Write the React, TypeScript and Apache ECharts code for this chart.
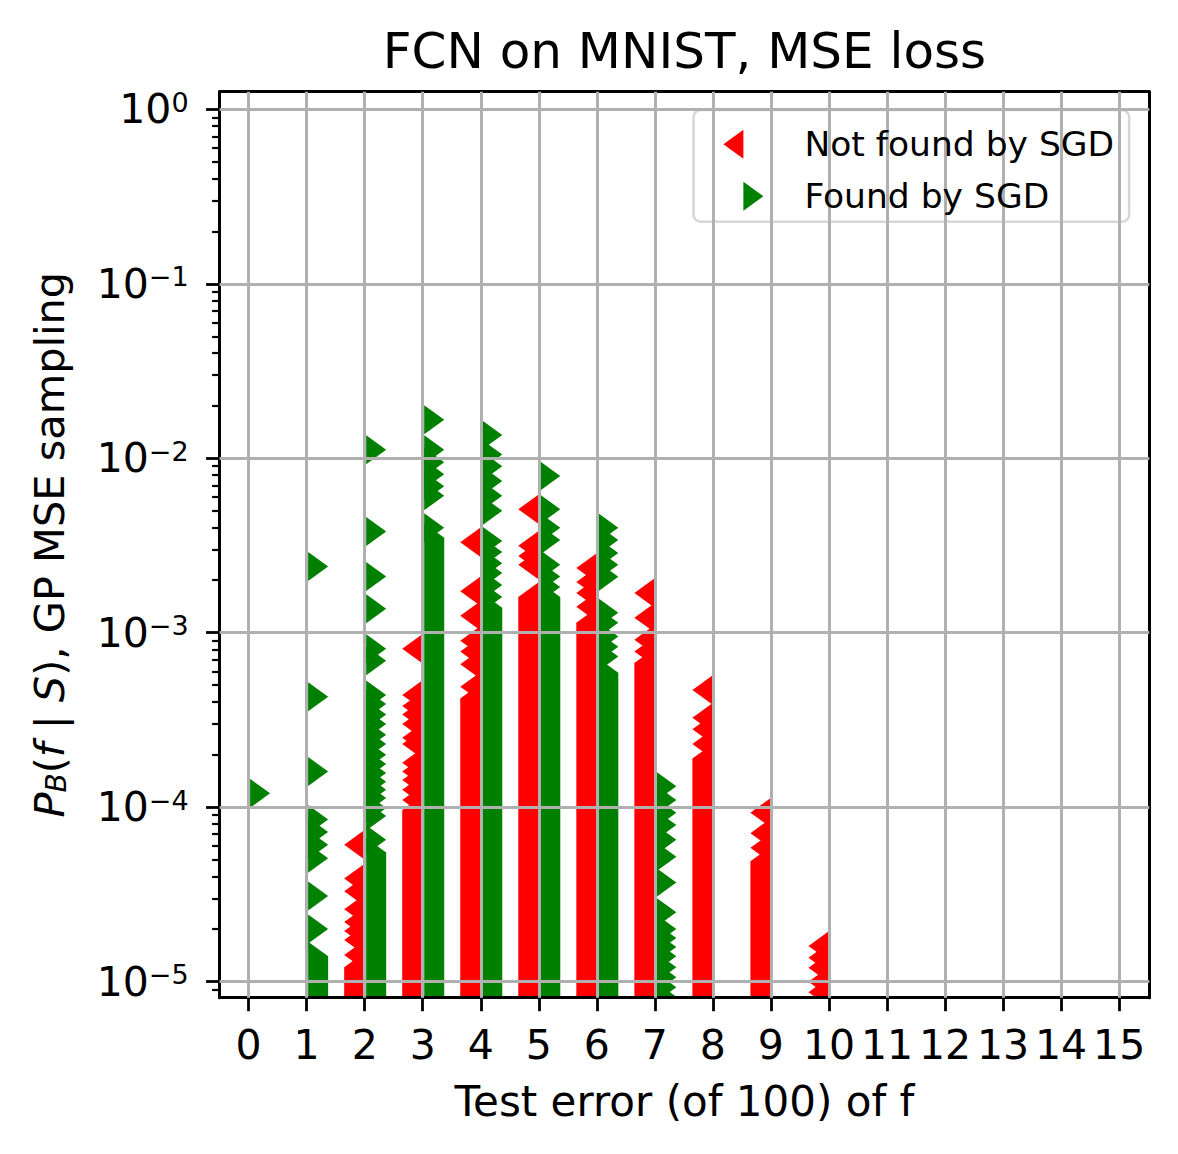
import React, { useEffect, useRef } from 'react';
import * as echarts from 'echarts';

const FONT = '"DejaVu Sans", sans-serif';
const TITLE = 'FCN on MNIST, MSE loss';
const X_NAME = 'Test error (of 100) of f';
const NOT_FOUND_SGD = 'Not found by SGD';
const FOUND_SGD = 'Found by SGD';

const X_TICKS = [0, 1, 2, 3, 4, 5, 6, 7, 8, 9, 10, 11, 12, 13, 14, 15];
const X_MIN = -0.5;
const X_MAX = 15.52;
const Y_TICKS = [1e-5, 1e-4, 1e-3, 1e-2, 1e-1, 1];
const Y_MINOR_TICKS = [
  9e-6, 2e-5, 3e-5, 4e-5, 5e-5, 6e-5, 7e-5, 8e-5, 9e-5,
  2e-4, 3e-4, 4e-4, 5e-4, 6e-4, 7e-4, 8e-4, 9e-4,
  2e-3, 3e-3, 4e-3, 5e-3, 6e-3, 7e-3, 8e-3, 9e-3,
  0.02, 0.03, 0.04, 0.05, 0.06, 0.07, 0.08, 0.09,
  0.2, 0.3, 0.4, 0.5, 0.6, 0.7, 0.8, 0.9,
];
const Y_MIN = 8.09e-6;
const Y_MAX = 1.262;

// Individually visible markers, P_B(f|S), per test error (not found by SGD)
const NOT_FOUND_AT_2 = [6.1e-5, 3.9e-5, 3.3e-5, 2.6e-5, 2.2e-5, 1.95e-5, 1.73e-5, 1.42e-5];
const NOT_FOUND_AT_3 = [8.1e-4, 4.4e-4, 3.8e-4, 3.4e-4, 3.0e-4, 2.5e-4, 2.3e-4, 1.8e-4, 1.6e-4, 1.43e-4, 1.26e-4, 1.1e-4];
const NOT_FOUND_AT_4 = [3.3e-3, 1.73e-3, 1.25e-3, 9.0e-4, 7.8e-4, 6.6e-4, 4.9e-4];
const NOT_FOUND_AT_5 = [5.1e-3, 3.15e-3, 2.75e-3, 2.45e-3];
const NOT_FOUND_AT_6 = [2.35e-3, 1.95e-3, 1.69e-3, 1.41e-3];
const NOT_FOUND_AT_7 = [1.69e-3, 1.22e-3, 9.1e-4, 7.8e-4];
const NOT_FOUND_AT_8 = [4.7e-4, 3.25e-4, 2.8e-4, 2.3e-4];
const NOT_FOUND_AT_9 = [9.3e-5, 7.1e-5, 5.85e-5];
const NOT_FOUND_AT_10 = [1.6e-5, 1.37e-5, 1.2e-5, 1.0e-5, 8.7e-6, 7.6e-6];

// Individually visible markers (found by SGD)
const FOUND_AT_0 = [1.2e-4];
const FOUND_AT_1 = [2.4e-3, 4.3e-4, 1.6e-4, 8.5e-5, 7.2e-5, 6.1e-5, 5.1e-5, 3.1e-5, 2.0e-5];
const FOUND_AT_2 = [1.12e-2, 3.8e-3, 2.1e-3, 1.37e-3, 8.1e-4, 6.9e-4, 4.4e-4, 3.9e-4, 3.4e-4, 3.0e-4, 2.6e-4, 2.3e-4, 2.0e-4, 1.77e-4, 1.57e-4, 1.4e-4, 1.26e-4, 1.13e-4, 9.9e-5, 8.9e-5, 6.5e-5];
const FOUND_AT_3 = [1.66e-2, 1.12e-2, 9.5e-3, 8.1e-3, 6.9e-3, 6.1e-3, 4.0e-3];
const FOUND_AT_4 = [1.36e-2, 1.05e-2, 9.0e-3, 7.4e-3, 6.1e-3, 5.0e-3, 3.35e-3, 2.9e-3, 2.5e-3, 2.2e-3, 1.88e-3, 1.6e-3];
const FOUND_AT_5 = [7.9e-3, 5.1e-3, 4.0e-3, 3.4e-3, 2.45e-3, 2.1e-3, 1.83e-3];
const FOUND_AT_6 = [4.0e-3, 3.4e-3, 2.86e-3, 2.45e-3, 2.09e-3, 1.3e-3, 1.14e-3, 9.5e-4, 8.3e-4, 7.3e-4];
const FOUND_AT_7 = [1.32e-4, 1.1e-4, 9.3e-5, 7.9e-5, 6.5e-5, 5.2e-5, 3.7e-5, 2.5e-5, 2.0e-5, 1.78e-5, 1.58e-5, 1.4e-5, 1.21e-5, 1.06e-5, 9.3e-6, 8.2e-6, 7.3e-6];

// Stretches where markers overlap into a solid bar: [test error, upper P, lower P]
const NOT_FOUND_BANDS: [number, number, number][] = [
  [2, 1.21e-5, 7.5e-6],
  [3, 9.6e-5, 7.5e-6],
  [4, 4.2e-4, 7.5e-6],
  [5, 1.6e-3, 7.5e-6],
  [6, 1.14e-3, 7.5e-6],
  [7, 6.7e-4, 7.5e-6],
  [8, 1.9e-4, 7.5e-6],
  [9, 4.9e-5, 7.5e-6],
];
const FOUND_BANDS: [number, number, number][] = [
  [1, 1.4e-5, 7.5e-6],
  [2, 5.5e-5, 7.5e-6],
  [3, 3.5e-3, 7.5e-6],
  [4, 1.39e-3, 7.5e-6],
  [5, 1.6e-3, 7.5e-6],
  [6, 5.9e-4, 7.5e-6],
];

const NOT_FOUND_POINTS: [number, number[]][] = [
  [2, NOT_FOUND_AT_2], [3, NOT_FOUND_AT_3], [4, NOT_FOUND_AT_4], [5, NOT_FOUND_AT_5],
  [6, NOT_FOUND_AT_6], [7, NOT_FOUND_AT_7], [8, NOT_FOUND_AT_8], [9, NOT_FOUND_AT_9],
  [10, NOT_FOUND_AT_10],
];
const FOUND_POINTS: [number, number[]][] = [
  [0, FOUND_AT_0], [1, FOUND_AT_1], [2, FOUND_AT_2], [3, FOUND_AT_3],
  [4, FOUND_AT_4], [5, FOUND_AT_5], [6, FOUND_AT_6], [7, FOUND_AT_7],
];

const lg = (v: number) => Math.log10(v);

function buildRows(points: [number, number[]][], bands: [number, number, number][]) {
  const rows: number[][] = [];
  bands.forEach(([x, hi, lo]) => rows.push([x, lg(hi), lg(lo)]));
  points.forEach(([x, vals]) => vals.forEach((v) => rows.push([x, lg(v), lg(v)])));
  return rows;
}

const RED_ICON = 'path://M20,0L20,29L0,14.5Z';
const GREEN_ICON = 'path://M0,0L20,14.5L0,29Z';

function makeRenderer(side: number, color: string) {
  return (params: any, api: any) => {
    const x = api.value(0);
    const top = api.coord([x, api.value(1)]);
    const bot = api.coord([x, api.value(2)]);
    const cx = top[0];
    const base = side < 0 ? cx - 0.5 : cx + 1.5;
    const tip = side < 0 ? cx - 20.5 : cx + 21.5;
    return {
      type: 'polygon',
      shape: {
        points: [
          [base, top[1] - 14.5],
          [tip, top[1]],
          [tip, bot[1]],
          [base, bot[1] + 14.5],
        ],
      },
      style: { fill: color },
    };
  };
}

export default function App() {
  const ref = useRef<HTMLDivElement>(null);

  useEffect(() => {
    if (!ref.current) return;
    const chart = echarts.init(ref.current, undefined, { renderer: 'svg' });
    const yMin = lg(Y_MIN);
    const yMax = lg(Y_MAX);
    const yTickExp = Y_TICKS.map(lg);
    const yMinorExp = Y_MINOR_TICKS.map(lg);
    const spine = { color: '#000', width: 3 };

    const option: any = {
      animation: false,
      textStyle: { fontFamily: FONT },
      title: {
        text: TITLE,
        left: 684.45,
        top: 50.5,
        textAlign: 'center',
        textVerticalAlign: 'middle',
        padding: 0,
        textStyle: { fontSize: 50, fontWeight: 'normal', color: '#000', fontFamily: FONT },
      },
      grid: { left: 219.6, top: 91.7, width: 929.7, height: 906, containLabel: false },
      xAxis: [
        {
          type: 'value',
          min: X_MIN,
          max: X_MAX,
          position: 'bottom',
          z: 4,
          axisLine: { show: true, onZero: false, lineStyle: spine },
          axisTick: { show: true, customValues: X_TICKS, length: 13.5, lineStyle: { color: '#000', width: 2.8 } },
          axisLabel: { show: true, customValues: X_TICKS, margin: 26.5, fontSize: 41, color: '#000', fontFamily: FONT },
          splitLine: { show: false },
          name: X_NAME,
          nameLocation: 'middle',
          nameGap: 82.8,
          nameTextStyle: { fontSize: 42, color: '#000', fontFamily: FONT },
        },
        {
          type: 'value',
          min: X_MIN,
          max: X_MAX,
          position: 'top',
          z: 4,
          axisLine: { show: true, onZero: false, lineStyle: spine },
          axisTick: { show: false },
          axisLabel: { show: false },
          splitLine: { show: false },
        },
      ],
      yAxis: [
        {
          type: 'value',
          min: yMin,
          max: yMax,
          position: 'left',
          z: 4,
          axisLine: { show: true, onZero: false, lineStyle: spine },
          axisTick: { show: true, customValues: yTickExp, length: 13.5, lineStyle: { color: '#000', width: 2.8 } },
          axisLabel: {
            show: true,
            customValues: yTickExp,
            margin: 31,
            fontSize: 41,
            lineHeight: 41,
            color: '#000',
            fontFamily: FONT,
            formatter: (v: number) => {
              const e = Math.round(v);
              return `{b|10}{s|${e < 0 ? '\u2212' + Math.abs(e) : e}}`;
            },
            rich: {
              b: { fontSize: 41, lineHeight: 41, color: '#000', fontFamily: FONT },
              s: { fontSize: 27, lineHeight: 27, verticalAlign: 'top', color: '#000', fontFamily: FONT },
            },
          },
          splitLine: { show: false },
          name: '{i|P}{sub|B}{n|(}{i|f}{n| | }{i|S}{n|), GP MSE sampling}',
          nameLocation: 'middle',
          nameRotate: 90,
          nameGap: 149.3,
          nameTextStyle: {
            color: '#000',
            fontSize: 41.5,
            lineHeight: 41.5,
            fontFamily: FONT,
            rich: {
              i: { fontSize: 41.5, lineHeight: 41.5, fontStyle: 'italic', color: '#000', fontFamily: FONT },
              sub: { fontSize: 28, lineHeight: 22, fontStyle: 'italic', verticalAlign: 'bottom', color: '#000', fontFamily: FONT },
              n: { fontSize: 41.5, lineHeight: 41.5, color: '#000', fontFamily: FONT },
            },
          },
        },
        {
          type: 'value',
          min: yMin,
          max: yMax,
          position: 'left',
          z: 4,
          axisLine: { show: false, onZero: false },
          axisTick: { show: true, customValues: yMinorExp, length: 7.5, lineStyle: { color: '#000', width: 2.2 } },
          axisLabel: { show: false },
          splitLine: { show: false },
        },
        {
          type: 'value',
          min: yMin,
          max: yMax,
          position: 'right',
          z: 4,
          axisLine: { show: true, onZero: false, lineStyle: spine },
          axisTick: { show: false },
          axisLabel: { show: false },
          splitLine: { show: false },
        },
      ],
      legend: [
        {
          data: [{ name: NOT_FOUND_SGD, icon: RED_ICON, itemStyle: { color: '#ff0000' } }],
          left: 723.4,
          top: 126.8,
          itemWidth: 20,
          itemHeight: 29,
          padding: 0,
          selectedMode: false,
          z: 6,
          textStyle: { fontSize: 34.5, color: '#000', fontFamily: FONT, padding: [0, 0, 10, 56] },
        },
        {
          data: [{ name: FOUND_SGD, icon: GREEN_ICON, itemStyle: { color: '#008000' } }],
          left: 743.4,
          top: 178.8,
          itemWidth: 20,
          itemHeight: 29,
          padding: 0,
          selectedMode: false,
          z: 6,
          textStyle: { fontSize: 34.5, color: '#000', fontFamily: FONT, padding: [0, 0, 10, 36] },
        },
      ],
      graphic: [
        {
          type: 'rect',
          z: 5,
          silent: true,
          shape: { x: 693.6, y: 110, width: 435.5, height: 111.7, r: 7 },
          style: { fill: 'rgba(255,255,255,0.8)', stroke: '#d6d6d6', lineWidth: 2.5 },
        },
      ],
      series: [
        {
          type: 'custom',
          name: NOT_FOUND_SGD,
          xAxisIndex: 0,
          yAxisIndex: 0,
          z: 2,
          clip: true,
          silent: true,
          itemStyle: { color: '#ff0000' },
          encode: { x: 0, y: [1, 2] },
          data: buildRows(NOT_FOUND_POINTS, NOT_FOUND_BANDS),
          renderItem: makeRenderer(-1, '#ff0000'),
        },
        {
          type: 'custom',
          name: FOUND_SGD,
          xAxisIndex: 0,
          yAxisIndex: 0,
          z: 2,
          clip: true,
          silent: true,
          itemStyle: { color: '#008000' },
          encode: { x: 0, y: [1, 2] },
          data: buildRows(FOUND_POINTS, FOUND_BANDS),
          renderItem: makeRenderer(1, '#008000'),
        },
        {
          type: 'line',
          name: 'grid',
          xAxisIndex: 0,
          yAxisIndex: 0,
          z: 3,
          silent: true,
          data: [],
          markLine: {
            silent: true,
            symbol: ['none', 'none'],
            label: { show: false },
            lineStyle: { color: '#b0b0b0', width: 3, type: 'solid' },
            emphasis: { disabled: true },
            data: [
              ...X_TICKS.map((v) => ({ xAxis: v })),
              ...yTickExp.map((v) => ({ yAxis: v })),
            ],
          },
        },
      ],
    };

    chart.setOption(option);
    return () => chart.dispose();
  }, []);

  return (
    <div
      ref={ref}
      style={{ position: 'absolute', left: 0, top: 0, width: 1178, height: 1154, background: '#fff' }}
    />
  );
}
